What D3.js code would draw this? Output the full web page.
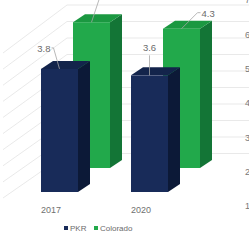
<!DOCTYPE html>
<html>
<head>
<meta charset="utf-8">
<title>PKR vs Colorado</title>
<script src="https://d3js.org/d3.v7.min.js"></script>
<style>
  html, body { margin: 0; padding: 0; background: #fff; overflow: hidden; }
  svg { display: block; font-family: "Liberation Sans", Arial, sans-serif; }
</style>
</head>
<body>
<div id="chart"></div>
<script>
// data
var years = ["2017", "2020"];
var seriesNames = ["PKR", "Colorado"];
var pkrValues = [3.8, 3.6];
var coloradoValues = [4.5, 4.3];
var axisTicks = [1, 2, 3, 4, 5, 6, 7];
var gridTicks = [0, 0.5, 1, 1.5, 2, 2.5, 3, 3.5, 4, 4.5];

var width = 249, height = 242;

var svg = d3.select("#chart").append("svg")
    .attr("width", width)
    .attr("height", height);

// colours: front, side, top
var colors = {
  "PKR": ["#182b59", "#0c1937", "#13244b"],
  "Colorado": ["#22a94b", "#137536", "#1b9841"]
};

// scales
var x = d3.scalePoint().domain(years).range([41, 131]);
var barW = 37, depthX = 12, depthY = -8;
// the back series sits further in the 3d space
var seriesShift = { "PKR": [0, 0], "Colorado": [32, -24] };
var h = d3.scaleLinear().domain([0, 7]).range([0, 7 * 32.4]);
var baseY = 192;

// back wall / side wall grid
var gridY = d3.scaleLinear().domain([0, 4.5]).range([153.5, 5]);
var gridLeft = d3.scaleLinear().domain([0, 4.5]).range([198, 53]);
var cornerX = 67;

svg.append("g").selectAll("polyline")
  .data(gridTicks)
  .enter().append("polyline")
    .attr("points", function(d) {
      return [[3, gridLeft(d)], [cornerX, gridY(d)], [width, gridY(d)]].join(" ");
    })
    .attr("fill", "none")
    .attr("stroke", "#e3e3e3")
    .attr("stroke-width", 0.8);

// value axis labels (right side, mostly cut off)
var axisY = d3.scaleLinear().domain([0, 7]).range([240, 0]);
var ax = svg.append("g")
    .attr("transform", "translate(243,0)")
    .call(d3.axisRight(axisY).tickValues(axisTicks).tickSize(0).tickPadding(2));
ax.select(".domain").remove();
ax.selectAll("text").attr("fill", "#777").style("font-size", "9px");

// build bars, back series first
var bars = [];
seriesNames.slice().reverse().forEach(function(s) {
  var vals = s === "PKR" ? pkrValues : coloradoValues;
  years.forEach(function(yr, i) {
    bars.push({ series: s, year: yr, value: vals[i] });
  });
});

function geom(d) {
  var x0 = x(d.year) + seriesShift[d.series][0];
  var b = baseY + seriesShift[d.series][1];
  var t = b - h(d.value);
  return { x0: x0, x1: x0 + barW, b: b, t: t };
}

var g = svg.append("g").selectAll("g")
  .data(bars)
  .enter().append("g");

// side face
g.append("polygon")
  .attr("points", function(d) {
    var p = geom(d);
    return [[p.x1, p.t], [p.x1 + depthX, p.t + depthY], [p.x1 + depthX, p.b + depthY], [p.x1, p.b]].join(" ");
  })
  .attr("fill", function(d) { return colors[d.series][1]; });

// top face
g.append("polygon")
  .attr("points", function(d) {
    var p = geom(d);
    return [[p.x0, p.t], [p.x0 + depthX, p.t + depthY], [p.x1 + depthX, p.t + depthY], [p.x1, p.t]].join(" ");
  })
  .attr("fill", function(d) { return colors[d.series][2]; });

// front face
g.append("rect")
  .attr("x", function(d) { return geom(d).x0; })
  .attr("y", function(d) { return geom(d).t; })
  .attr("width", barW)
  .attr("height", function(d) { return h(d.value); })
  .attr("fill", function(d) { return colors[d.series][0]; });

// data labels with leader lines: [elbow dx, elbow dy, text dx, text dy, anchor]
var labelPlace = {
  "PKR2017": [-6, -21, -9, -17, "end"],
  "PKR2020": [0, -20, 0, -24, "middle"],
  "Colorado2017": [8, -24, 12, -22, "start"],
  "Colorado2020": [16, -16, 20, -12, "start"]
};

bars.forEach(function(d) {
  var p = geom(d);
  var cx = (p.x0 + p.x1) / 2;
  var lp = labelPlace[d.series + d.year];
  var ex = cx + lp[0], ey = p.t + lp[1];
  var pts = [[cx, p.t], [ex, ey]];
  if (lp[4] !== "middle") pts.push([ex + (lp[4] === "end" ? -2 : 3), ey]);
  svg.append("polyline")
    .attr("points", pts.join(" "))
    .attr("fill", "none")
    .attr("stroke", "#a6a6a6")
    .attr("stroke-width", 0.8);
  svg.append("text")
    .attr("x", cx + lp[2])
    .attr("y", p.t + lp[3])
    .attr("text-anchor", lp[4])
    .attr("fill", "#6b6b6b")
    .style("font-size", "9.5px")
    .text(d.value.toFixed(1));
});

// category labels
svg.append("g").selectAll("text")
  .data(years)
  .enter().append("text")
    .attr("x", function(d) { return x(d); })
    .attr("y", 213)
    .attr("fill", "#707070")
    .style("font-size", "9px")
    .text(function(d) { return d; });

// legend
var legX = d3.scaleOrdinal().domain(seriesNames).range([64, 94]);
var leg = svg.append("g").selectAll("g")
  .data(seriesNames)
  .enter().append("g")
    .attr("transform", function(d) { return "translate(" + legX(d) + ",226)"; });
leg.append("rect")
  .attr("width", 4).attr("height", 4)
  .attr("fill", function(d) { return colors[d][0]; });
leg.append("text")
  .attr("x", 6).attr("y", 4.5)
  .attr("fill", "#6b6b6b")
  .style("font-size", "8px")
  .text(function(d) { return d; });
</script>
</body>
</html>
